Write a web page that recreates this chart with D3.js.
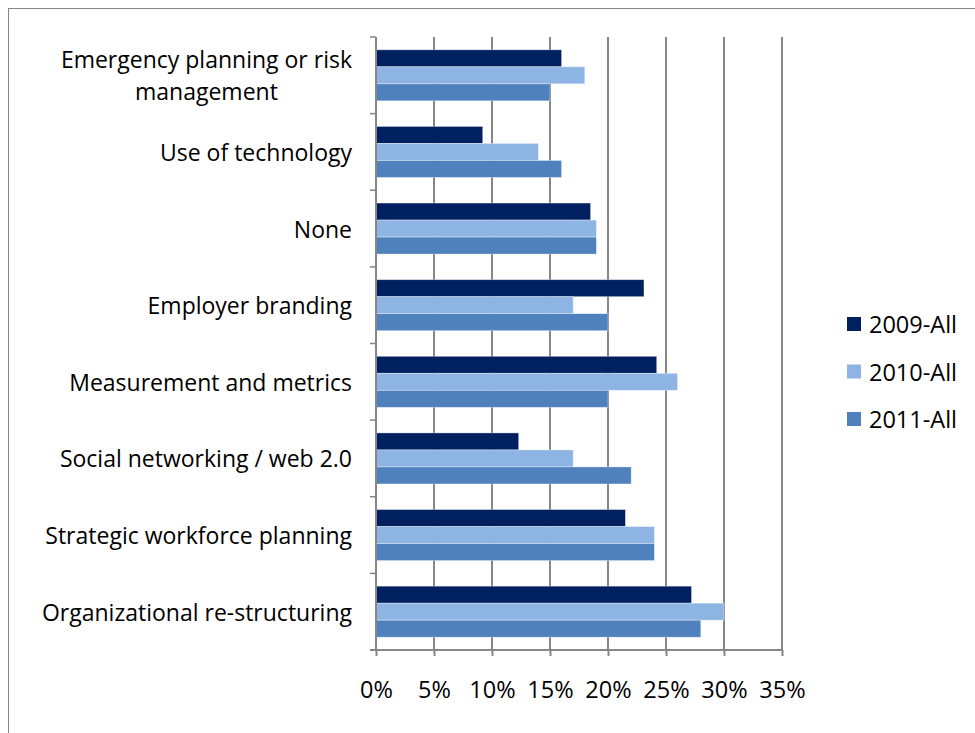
<!DOCTYPE html>
<html>
<head>
<meta charset="utf-8">
<script src="https://cdn.jsdelivr.net/npm/d3@7"></script>
<style>
  html, body { margin: 0; padding: 0; background: #fff; }
  svg { display: block; }
  text { font-family: "Open Sans", "Noto Sans", sans-serif; fill: #000; }
</style>
</head>
<body>
<svg id="chart" width="975" height="733"></svg>
<script>
// Categories, top to bottom; a label may wrap onto several lines
const categories = [
  ["Emergency planning or risk", "management"],
  ["Use of technology"],
  ["None"],
  ["Employer branding"],
  ["Measurement and metrics"],
  ["Social networking / web 2.0"],
  ["Strategic workforce planning"],
  ["Organizational re-structuring"]
];
const seriesNames = ["2009-All", "2010-All", "2011-All"];
const seriesColors = ["#00205F", "#8EB4E3", "#4F81BD"];
// Share of respondents (%), one entry per category in the order above
const values2009 = [16.0, 9.2, 18.5, 23.1, 24.2, 12.3, 21.5, 27.2];
const values2010 = [18.0, 14.0, 19.0, 17.0, 26.0, 17.0, 24.0, 30.0];
const values2011 = [15.0, 16.0, 19.0, 20.0, 20.0, 22.0, 24.0, 28.0];
const xTicks = [0, 5, 10, 15, 20, 25, 30, 35];

const series = [values2009, values2010, values2011];
const svg = d3.select("#chart");

// Outer chart frame
svg.append("rect")
  .attr("x", 8.5).attr("y", 8.5)
  .attr("width", 1000).attr("height", 1000)
  .attr("fill", "#fff").attr("stroke", "#868686").attr("stroke-width", 1);

const plot = { left: 376, right: 782, top: 37, bottom: 650 };

const x = d3.scaleLinear().domain([0, 35]).range([plot.left, plot.right]);
const y = d3.scaleBand()
  .domain(d3.range(categories.length))
  .range([plot.top, plot.bottom])
  .paddingInner(0.334).paddingOuter(0.167);
const ySeries = d3.scaleBand()
  .domain(d3.range(seriesNames.length))
  .range([0, y.bandwidth()]);

// Vertical gridlines
svg.append("g")
  .selectAll("line")
  .data(xTicks.slice(1))
  .join("line")
  .attr("x1", d => x(d)).attr("x2", d => x(d))
  .attr("y1", plot.top).attr("y2", plot.bottom)
  .attr("stroke", "#868686").attr("stroke-width", 2);

// Bars
const groups = svg.append("g")
  .selectAll("g")
  .data(categories.map((c, i) => i))
  .join("g")
  .attr("transform", i => `translate(0,${y(i)})`);

groups.selectAll("rect")
  .data(i => series.map((vals, s) => ({ s, v: vals[i] })))
  .join("rect")
  .attr("x", x(0))
  .attr("y", d => ySeries(d.s))
  .attr("width", d => x(d.v) - x(0))
  .attr("height", ySeries.bandwidth())
  .attr("fill", d => seriesColors[d.s])
  .attr("stroke", "rgba(255,255,255,0.45)")
  .attr("stroke-width", 0.8);

// Category axis (left) with tick marks at band boundaries
const leftAxis = svg.append("g");
leftAxis.append("line")
  .attr("x1", plot.left).attr("x2", plot.left)
  .attr("y1", plot.top).attr("y2", plot.bottom)
  .attr("stroke", "#868686").attr("stroke-width", 2);
leftAxis.selectAll("line.tick")
  .data(d3.range(categories.length + 1))
  .join("line")
  .attr("class", "tick")
  .attr("x1", plot.left - 6).attr("x2", plot.left)
  .attr("y1", i => plot.top + i * y.step())
  .attr("y2", i => plot.top + i * y.step())
  .attr("stroke", "#868686").attr("stroke-width", 1.5);

// Category labels: block right-aligned to the axis, lines centred in the block
const labelRight = 352;
const lineHeight = 32;
const fontSize = 23;
const numFontSize = 23.5;
const measure = svg.append("text").attr("font-size", fontSize).attr("visibility", "hidden");
categories.forEach((lines, i) => {
  const widths = lines.map(l => { measure.text(l); return measure.node().getComputedTextLength(); });
  const blockW = d3.max(widths);
  const cx = labelRight - blockW / 2;
  const cy = y(i) + y.bandwidth() / 2;
  lines.forEach((l, k) => {
    svg.append("text")
      .attr("x", cx)
      .attr("y", cy + (k - (lines.length - 1) / 2) * lineHeight)
      .attr("text-anchor", "middle")
      .attr("dominant-baseline", "central")
      .attr("font-size", fontSize)
      .text(l);
  });
});
measure.remove();

// Value axis (bottom)
const xAxis = d3.axisBottom(x)
  .tickValues(xTicks)
  .tickSize(6)
  .tickPadding(25)
  .tickFormat(d => d + "%");
const gx = svg.append("g")
  .attr("transform", `translate(0,${plot.bottom})`)
  .call(xAxis);
gx.select(".domain").attr("stroke", "#868686").attr("stroke-width", 2)
  .attr("d", `M${plot.left - 6},0H${plot.right}`);
gx.selectAll(".tick line").attr("stroke", "#868686").attr("stroke-width", 2);
gx.selectAll(".tick text")
  .attr("font-size", numFontSize)
  .attr("font-family", "\"Open Sans\", \"Noto Sans\", sans-serif")
  .attr("fill", "#000");

// Legend
const legend = svg.append("g").attr("transform", "translate(847,0)");
seriesNames.forEach((name, s) => {
  const cy = 324 + s * 47.5;
  legend.append("rect")
    .attr("x", 0).attr("y", cy - 7)
    .attr("width", 14).attr("height", 14)
    .attr("fill", seriesColors[s]);
  legend.append("text")
    .attr("x", 22).attr("y", cy)
    .attr("dominant-baseline", "central")
    .attr("font-size", numFontSize)
    .text(name);
});
</script>
</body>
</html>
